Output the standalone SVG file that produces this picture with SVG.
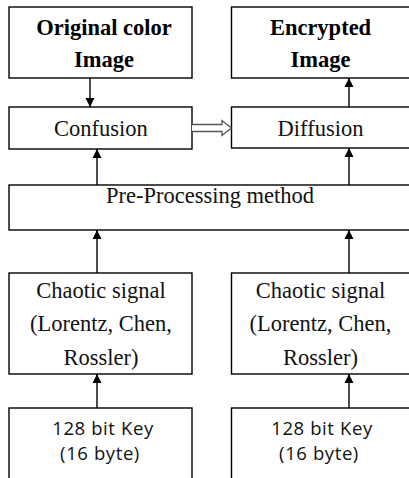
<svg xmlns="http://www.w3.org/2000/svg" width="409" height="478" viewBox="0 0 409 478">
<style>
.box{fill:#fff;stroke:#000;stroke-width:1.4}
.t{font-family:"Liberation Serif",Tinos,"Times New Roman","DejaVu Serif",serif;font-size:22.5px;fill:#111;text-anchor:middle}
.b{font-weight:bold;fill:#000}
.s{font-family:"Open Sans","Liberation Sans",sans-serif;font-size:18.5px;fill:#111;text-anchor:middle;letter-spacing:0.6px}
.ln{stroke:#000;stroke-width:1.4;fill:none}
</style>
<defs>
<marker id="ah" viewBox="0 0 10 10" refX="10" refY="5" markerWidth="9" markerHeight="10" markerUnits="userSpaceOnUse" orient="auto">
<path d="M0,0 L10,5 L0,10 Z" fill="#000"/>
</marker>
</defs>
<rect width="409" height="478" fill="#fff"/>
<g id="original">
<rect class="box" x="9" y="7" width="183" height="71"/>
<text class="t b" x="104" y="35">Original color</text>
<text class="t b" x="104" y="67">Image</text>
</g>
<g id="encrypted">
<rect class="box" x="231.5" y="7" width="180" height="71"/>
<text class="t b" x="320.5" y="35">Encrypted</text>
<text class="t b" x="320.5" y="67">Image</text>
</g>
<g id="confusion">
<rect class="box" x="9" y="107" width="183" height="42"/>
<text class="t" x="101" y="136">Confusion</text>
</g>
<g id="diffusion">
<rect class="box" x="231.5" y="107" width="180" height="41"/>
<text class="t" x="320.5" y="136">Diffusion</text>
</g>
<g id="preprocessing">
<rect class="box" x="9" y="185" width="402" height="45"/>
<text class="t" x="210" y="203">Pre-Processing method</text>
</g>
<g id="chaotic1">
<rect class="box" x="9" y="273" width="183" height="101"/>
<text class="t" x="101" y="298">Chaotic signal</text>
<text class="t" x="101" y="331">(Lorentz, Chen,</text>
<text class="t" x="101" y="365">Rossler)</text>
</g>
<g id="chaotic2">
<rect class="box" x="231.5" y="273" width="180" height="101"/>
<text class="t" x="320.5" y="298">Chaotic signal</text>
<text class="t" x="320.5" y="331">(Lorentz, Chen,</text>
<text class="t" x="320.5" y="365">Rossler)</text>
</g>
<g id="key1">
<rect class="box" x="9" y="408" width="183" height="80"/>
<text class="s" x="103" y="435">128 bit Key</text>
<text class="s" x="100" y="460">(16 byte)</text>
</g>
<g id="key2">
<rect class="box" x="231.5" y="408" width="180" height="80"/>
<text class="s" x="322" y="435">128 bit Key</text>
<text class="s" x="319" y="460">(16 byte)</text>
</g>
<g id="connectors">
<line class="ln" x1="90" y1="78" x2="90" y2="107" marker-end="url(#ah)"/>
<line class="ln" x1="349" y1="107" x2="349" y2="78" marker-end="url(#ah)"/>
<line class="ln" x1="97" y1="185" x2="97" y2="149" marker-end="url(#ah)"/>
<line class="ln" x1="349" y1="185" x2="349" y2="148" marker-end="url(#ah)"/>
<line class="ln" x1="97" y1="273" x2="97" y2="230" marker-end="url(#ah)"/>
<line class="ln" x1="349" y1="273" x2="349" y2="230" marker-end="url(#ah)"/>
<line class="ln" x1="97" y1="408" x2="97" y2="374" marker-end="url(#ah)"/>
<line class="ln" x1="349" y1="408" x2="349" y2="374" marker-end="url(#ah)"/>
<path d="M192,124.5 H222 V120.5 L231.5,128 L222,135.5 V131.5 H192" fill="#fff" stroke="#555" stroke-width="1.3"/>
</g>
</svg>
